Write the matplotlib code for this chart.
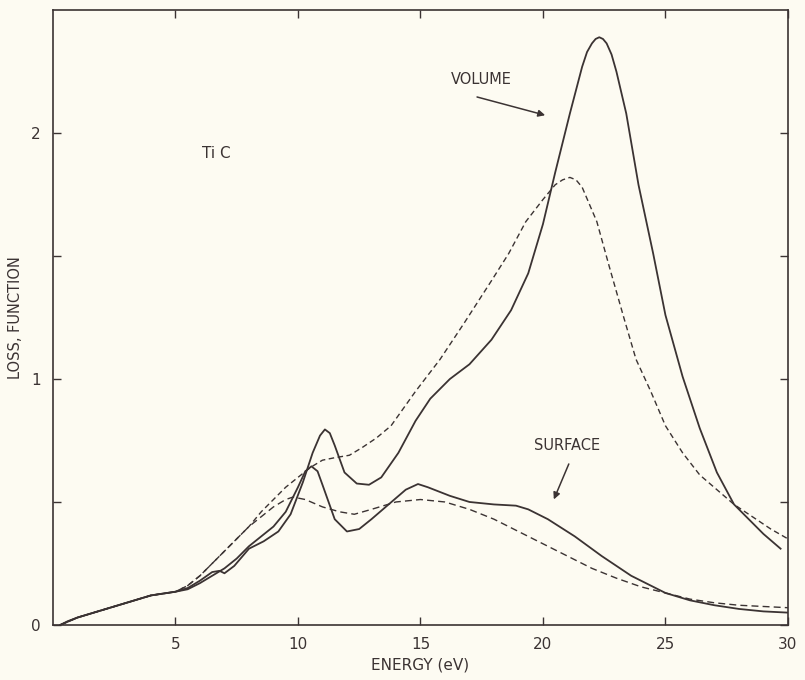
import matplotlib
matplotlib.use("Agg")
import matplotlib.pyplot as plt

# ---- data ----
vol_solid_x = [0.3, 0.6, 1.0, 2.0, 3.0, 4.0, 5.0, 5.5, 6.0, 6.5, 6.8, 7.0, 7.4, 8.0, 8.6, 9.2, 9.7,
               10.2, 10.6, 10.9, 11.1, 11.3, 11.5, 11.9, 12.4, 12.9, 13.4, 14.1, 14.8, 15.4, 16.2,
               17.0, 17.9, 18.7, 19.4, 20.0, 20.5, 21.1, 21.6, 21.8, 22.0, 22.15, 22.3, 22.45,
               22.6, 22.8, 23.0, 23.4, 23.9, 24.5, 25.0, 25.7, 26.4, 27.1, 27.8, 28.3, 29.0, 29.7]
vol_solid_y = [0.0, 0.015, 0.03, 0.06, 0.09, 0.12, 0.135, 0.15, 0.18, 0.215, 0.22, 0.21, 0.24, 0.31,
               0.34, 0.38, 0.45, 0.58, 0.70, 0.77, 0.795, 0.78, 0.73, 0.62, 0.575, 0.57, 0.60, 0.70,
               0.83, 0.92, 1.00, 1.06, 1.16, 1.28, 1.43, 1.63, 1.84, 2.08, 2.27, 2.33, 2.365, 2.383,
               2.39, 2.383, 2.365, 2.32, 2.25, 2.08, 1.79, 1.51, 1.26, 1.01, 0.80, 0.62, 0.49, 0.44,
               0.37, 0.31]

vol_dash_x = [0.3, 1.0, 2.0, 3.0, 4.0, 5.0, 5.5, 6.0, 6.5, 7.0, 7.5, 8.0, 8.5, 9.0, 9.5, 10.0, 10.5,
              11.0, 11.5, 12.1, 12.6, 13.2, 13.8, 14.8, 15.8, 16.8, 17.9, 18.6, 19.3, 20.0, 20.5,
              20.8, 21.1, 21.35, 21.6, 22.2, 22.7, 23.3, 23.8, 24.4, 25.0, 25.7, 26.4, 27.1, 27.8,
              28.4, 29.3, 30.0]
vol_dash_y = [0.0, 0.03, 0.06, 0.09, 0.12, 0.135, 0.16, 0.20, 0.25, 0.30, 0.35, 0.40, 0.46, 0.51,
              0.56, 0.60, 0.64, 0.67, 0.68, 0.69, 0.72, 0.76, 0.81, 0.95, 1.08, 1.23, 1.40, 1.51,
              1.64, 1.73, 1.79, 1.81, 1.82, 1.81, 1.78, 1.64, 1.46, 1.25, 1.08, 0.95, 0.81, 0.70,
              0.61, 0.55, 0.49, 0.45, 0.39, 0.35]

surf_solid_x = [0.3, 1.0, 2.0, 3.0, 4.0, 5.0, 5.5, 6.0, 6.5, 7.0, 7.5, 8.0, 8.5, 9.0, 9.5, 10.0,
                10.3, 10.55, 10.8, 11.0, 11.5, 12.0, 12.5, 13.0, 13.7, 14.4, 14.9, 15.3, 16.2, 17.0,
                18.0, 18.9, 19.4, 20.2, 21.3, 22.4, 23.6, 25.0, 26.0, 27.0, 28.0, 29.0, 30.0]
surf_solid_y = [0.0, 0.03, 0.06, 0.09, 0.12, 0.135, 0.145, 0.17, 0.20, 0.23, 0.27, 0.32, 0.36, 0.40,
                0.46, 0.56, 0.625, 0.645, 0.625, 0.57, 0.43, 0.38, 0.39, 0.43, 0.49, 0.55, 0.573,
                0.56, 0.525, 0.50, 0.49, 0.485, 0.47, 0.43, 0.36, 0.28, 0.20, 0.13, 0.10, 0.08,
                0.065, 0.055, 0.05]

surf_dash_x = [0.3, 1.0, 2.0, 3.0, 4.0, 5.0, 5.5, 6.0, 6.5, 7.0, 7.5, 8.0, 8.5, 9.0, 9.5, 9.8, 10.3,
               11.0, 11.7, 12.3, 13.0, 14.0, 15.0, 16.0, 17.0, 18.0, 19.0, 20.0, 21.0, 22.0, 23.0,
               24.0, 25.0, 26.0, 27.0, 28.0, 29.0, 30.0]
surf_dash_y = [0.0, 0.03, 0.06, 0.09, 0.12, 0.135, 0.16, 0.20, 0.25, 0.30, 0.35, 0.40, 0.44, 0.48,
               0.51, 0.52, 0.51, 0.48, 0.46, 0.45, 0.47, 0.50, 0.51, 0.50, 0.47, 0.43, 0.38, 0.33,
               0.28, 0.23, 0.19, 0.155, 0.13, 0.105, 0.09, 0.08, 0.075, 0.07]

x_ticks = [5, 10, 15, 20, 25, 30]
x_tick_labels = ["5", "10", "15", "20", "25", "30"]
y_ticks = [0, 0.5, 1, 1.5, 2]
y_tick_labels = ["0", "", "1", "", "2"]

# ---- style ----
ink = "#3b3333"
bg = "#fdfbf2"
plt.rcParams['font.family'] = ['DejaVu Sans']

fig = plt.figure(figsize=(8.05, 6.8), dpi=100, facecolor=bg)
ax = fig.add_axes([0.0658, 0.081, 0.913, 0.904], facecolor=bg)

ax.plot(vol_solid_x, vol_solid_y, color=ink, lw=1.3)
ax.plot(surf_solid_x, surf_solid_y, color=ink, lw=1.3)
ax.plot(vol_dash_x, vol_dash_y, color=ink, lw=1.0, dashes=(4, 2.5))
ax.plot(surf_dash_x, surf_dash_y, color=ink, lw=1.0, dashes=(5, 3))

ax.set_xlim(0, 30)
ax.set_ylim(0, 2.5)
ax.set_xticks(x_ticks)
ax.set_xticklabels(x_tick_labels)
ax.set_yticks(y_ticks)
ax.set_yticklabels(y_tick_labels)
ax.tick_params(direction='in', length=6, width=1.0, color=ink, labelcolor=ink,
               labelsize=11, top=True, right=True, pad=9)
for s in ax.spines.values():
    s.set_color(ink)
    s.set_linewidth(1.2)

ax.set_xlabel("ENERGY (eV)", color=ink, fontsize=11, labelpad=4)
ax.set_ylabel("LOSS, FUNCTION", color=ink, fontsize=10.5, labelpad=6)

ax.text(6.1, 1.90, "Ti C", color=ink, fontsize=11)
ax.text(17.5, 2.22, "VOLUME", color=ink, fontsize=10.5, ha='center', va='center')
ax.annotate("", xy=(20.2, 2.07), xytext=(17.2, 2.15),
            arrowprops=dict(arrowstyle='-|>', color=ink, lw=1.1, mutation_scale=10))
ax.text(21.0, 0.73, "SURFACE", color=ink, fontsize=10.5, ha='center', va='center')
ax.annotate("", xy=(20.4, 0.5), xytext=(21.1, 0.665),
            arrowprops=dict(arrowstyle='-|>', color=ink, lw=1.1, mutation_scale=10))

fig.savefig("out.png", dpi=100, facecolor=bg)
